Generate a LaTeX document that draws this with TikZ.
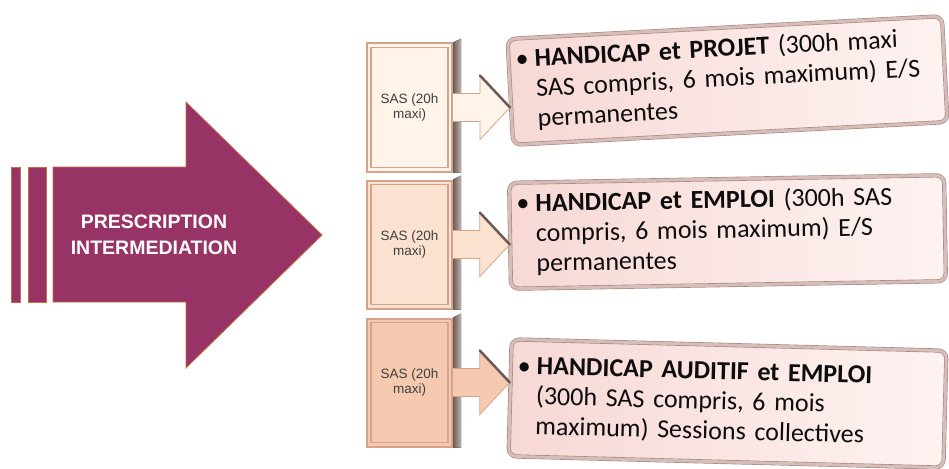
\documentclass[tikz,border=0pt]{standalone}
\usepackage{fontspec}
\setmainfont{Carlito}
\newfontfamily\arialfont{Liberation Sans}
\usetikzlibrary{calc}

\definecolor{prescpurple}{RGB}{152,52,101}
\definecolor{prescedge}{RGB}{196,110,64}
\definecolor{sasA}{RGB}{254,244,234}
\definecolor{sasB}{RGB}{251,226,208}
\definecolor{sasC}{RGB}{246,202,176}
\definecolor{sasedge}{RGB}{214,163,138}
\definecolor{sasdark}{RGB}{110,90,85}
\definecolor{boxleft}{RGB}{247,216,213}
\definecolor{boxright}{RGB}{253,243,241}
\definecolor{boxbevel}{RGB}{216,188,184}
\definecolor{boxline}{RGB}{160,135,131}
\definecolor{textdark}{RGB}{13,13,13}

\tikzset{
  bigarrow/.style={fill=prescpurple,draw=prescedge,line width=0.8pt},
  presctext/.style={text=white,align=center,font=\arialfont\bfseries\fontsize{19.5}{26}\selectfont},
  sasbox/.style={draw=sasedge,line width=2pt,minimum width=85pt,minimum height=128pt,inner sep=0pt,align=center,font=\arialfont\fontsize{13.5}{14.5}\selectfont,text=black!75},
  sasframe/.style={draw=sasedge,line width=1.2pt},
  sasshade/.style={left color=sasdark,right color=sasdark!45!white},
  stubarrow/.style={draw=sasedge,line width=0.8pt,line join=miter},
  stubedge/.style={draw=sasdark,line width=2.5pt,line cap=round},
  planbox/.style={draw=boxline,double=boxbevel,double distance=3pt,line width=0.6pt,rounded corners=8pt,left color=boxleft,right color=boxright,minimum width=435pt,inner xsep=7pt,text width=421pt,align=left,font=\fontsize{26}{30}\selectfont,text=textdark},
}

\begin{document}
\begin{tikzpicture}[x=1pt,y=-1pt]
\useasboundingbox (0,0) rectangle (949,468);
% big arrow
\draw[bigarrow] (53,167) -- (186,167) -- (186,102) -- (322,235) -- (186,368) -- (186,302) -- (53,302) -- cycle;
\draw[bigarrow] (11,167) rectangle (20,302);
\draw[bigarrow] (28,167) rectangle (46,302);
\node[presctext] (presc) at (154,235) {PRESCRIPTION\\INTERMEDIATION};
% SAS boxes
\node[sasbox,fill=sasA] (sas1) at (409.5,107.5) {SAS (20h\\maxi)};
\node[sasbox,fill=sasB] (sas2) at (409.5,244.5) {SAS (20h\\maxi)};
\node[sasbox,fill=sasC] (sas3) at (409.5,382.5) {SAS (20h\\maxi)};
\fill[sasshade] (sas1.north east) -- ++(8pt,4pt) -- ([xshift=8pt]sas1.south east) -- (sas1.south east) -- cycle;
\fill[sasshade] (sas2.north east) -- ++(8pt,4pt) -- ([xshift=8pt]sas2.south east) -- (sas2.south east) -- cycle;
\fill[sasshade] (sas3.north east) -- ++(8pt,4pt) -- ([xshift=8pt]sas3.south east) -- (sas3.south east) -- cycle;
\draw[sasframe] ([shift={(5pt,-5pt)}]sas1.north west) rectangle ([shift={(-5pt,5pt)}]sas1.south east);
\draw[sasframe] ([shift={(5pt,-5pt)}]sas2.north west) rectangle ([shift={(-5pt,5pt)}]sas2.south east);
\draw[sasframe] ([shift={(5pt,-5pt)}]sas3.north west) rectangle ([shift={(-5pt,5pt)}]sas3.south east);
% offers
\node[planbox,rotate=3,minimum height=106pt] (box1) at (727.5,80.5)
  {\begin{tabular}{@{}l@{}l@{}}\makebox[19pt][l]{\textbullet} & \textbf{HANDICAP et PROJET} (300h maxi\\ & SAS compris, 6 mois maximum) E/S\\ & permanentes\end{tabular}};
\node[planbox,rotate=1,minimum height=106pt] (box2) at (727.5,232)
  {\begin{tabular}{@{}l@{}l@{}}\makebox[19pt][l]{\textbullet} & \textbf{HANDICAP et EMPLOI} (300h SAS\\ & compris, 6 mois maximum) E/S\\ & permanentes\end{tabular}};
\node[planbox,rotate=-1.5,minimum height=117pt] (box3) at (727.5,403.5)
  {\begin{tabular}{@{}l@{}l@{}}\makebox[19pt][l]{\textbullet} & \textbf{HANDICAP AUDITIF et EMPLOI}\\ & (300h SAS compris, 6 mois\\ & maximum) Sessions collectives\end{tabular}};
% small arrows
\draw[stubarrow,fill=sasA] let \p1=(sas1.east), \p2=(box1.west) in (\x1,\y1+14pt) -- (\x2-30pt,\y1+14pt) -- (\x2-30pt,\y1+32pt) -- (\x2,\y1) -- (\x2-30pt,\y1-32pt) -- (\x2-30pt,\y1-14pt) -- (\x1,\y1-14pt);
\draw[stubarrow,fill=sasB] let \p1=(sas2.east), \p2=(box2.west) in (\x1,\y1+14pt) -- (\x2-30pt,\y1+14pt) -- (\x2-30pt,\y1+32pt) -- (\x2,\y1) -- (\x2-30pt,\y1-32pt) -- (\x2-30pt,\y1-14pt) -- (\x1,\y1-14pt);
\draw[stubarrow,fill=sasC] let \p1=(sas3.east), \p2=(box3.west) in (\x1,\y1+14pt) -- (\x2-30pt,\y1+14pt) -- (\x2-30pt,\y1+32pt) -- (\x2,\y1) -- (\x2-30pt,\y1-32pt) -- (\x2-30pt,\y1-14pt) -- (\x1,\y1-14pt);
\draw[stubedge] let \p1=(sas1.east), \p2=(box1.west) in (\x2-30pt,\y1+32pt) -- (\x2,\y1);
\draw[stubedge] let \p1=(sas2.east), \p2=(box2.west) in (\x2-30pt,\y1+32pt) -- (\x2,\y1);
\draw[stubedge] let \p1=(sas3.east), \p2=(box3.west) in (\x2-30pt,\y1+32pt) -- (\x2,\y1);
\end{tikzpicture}
\end{document}
